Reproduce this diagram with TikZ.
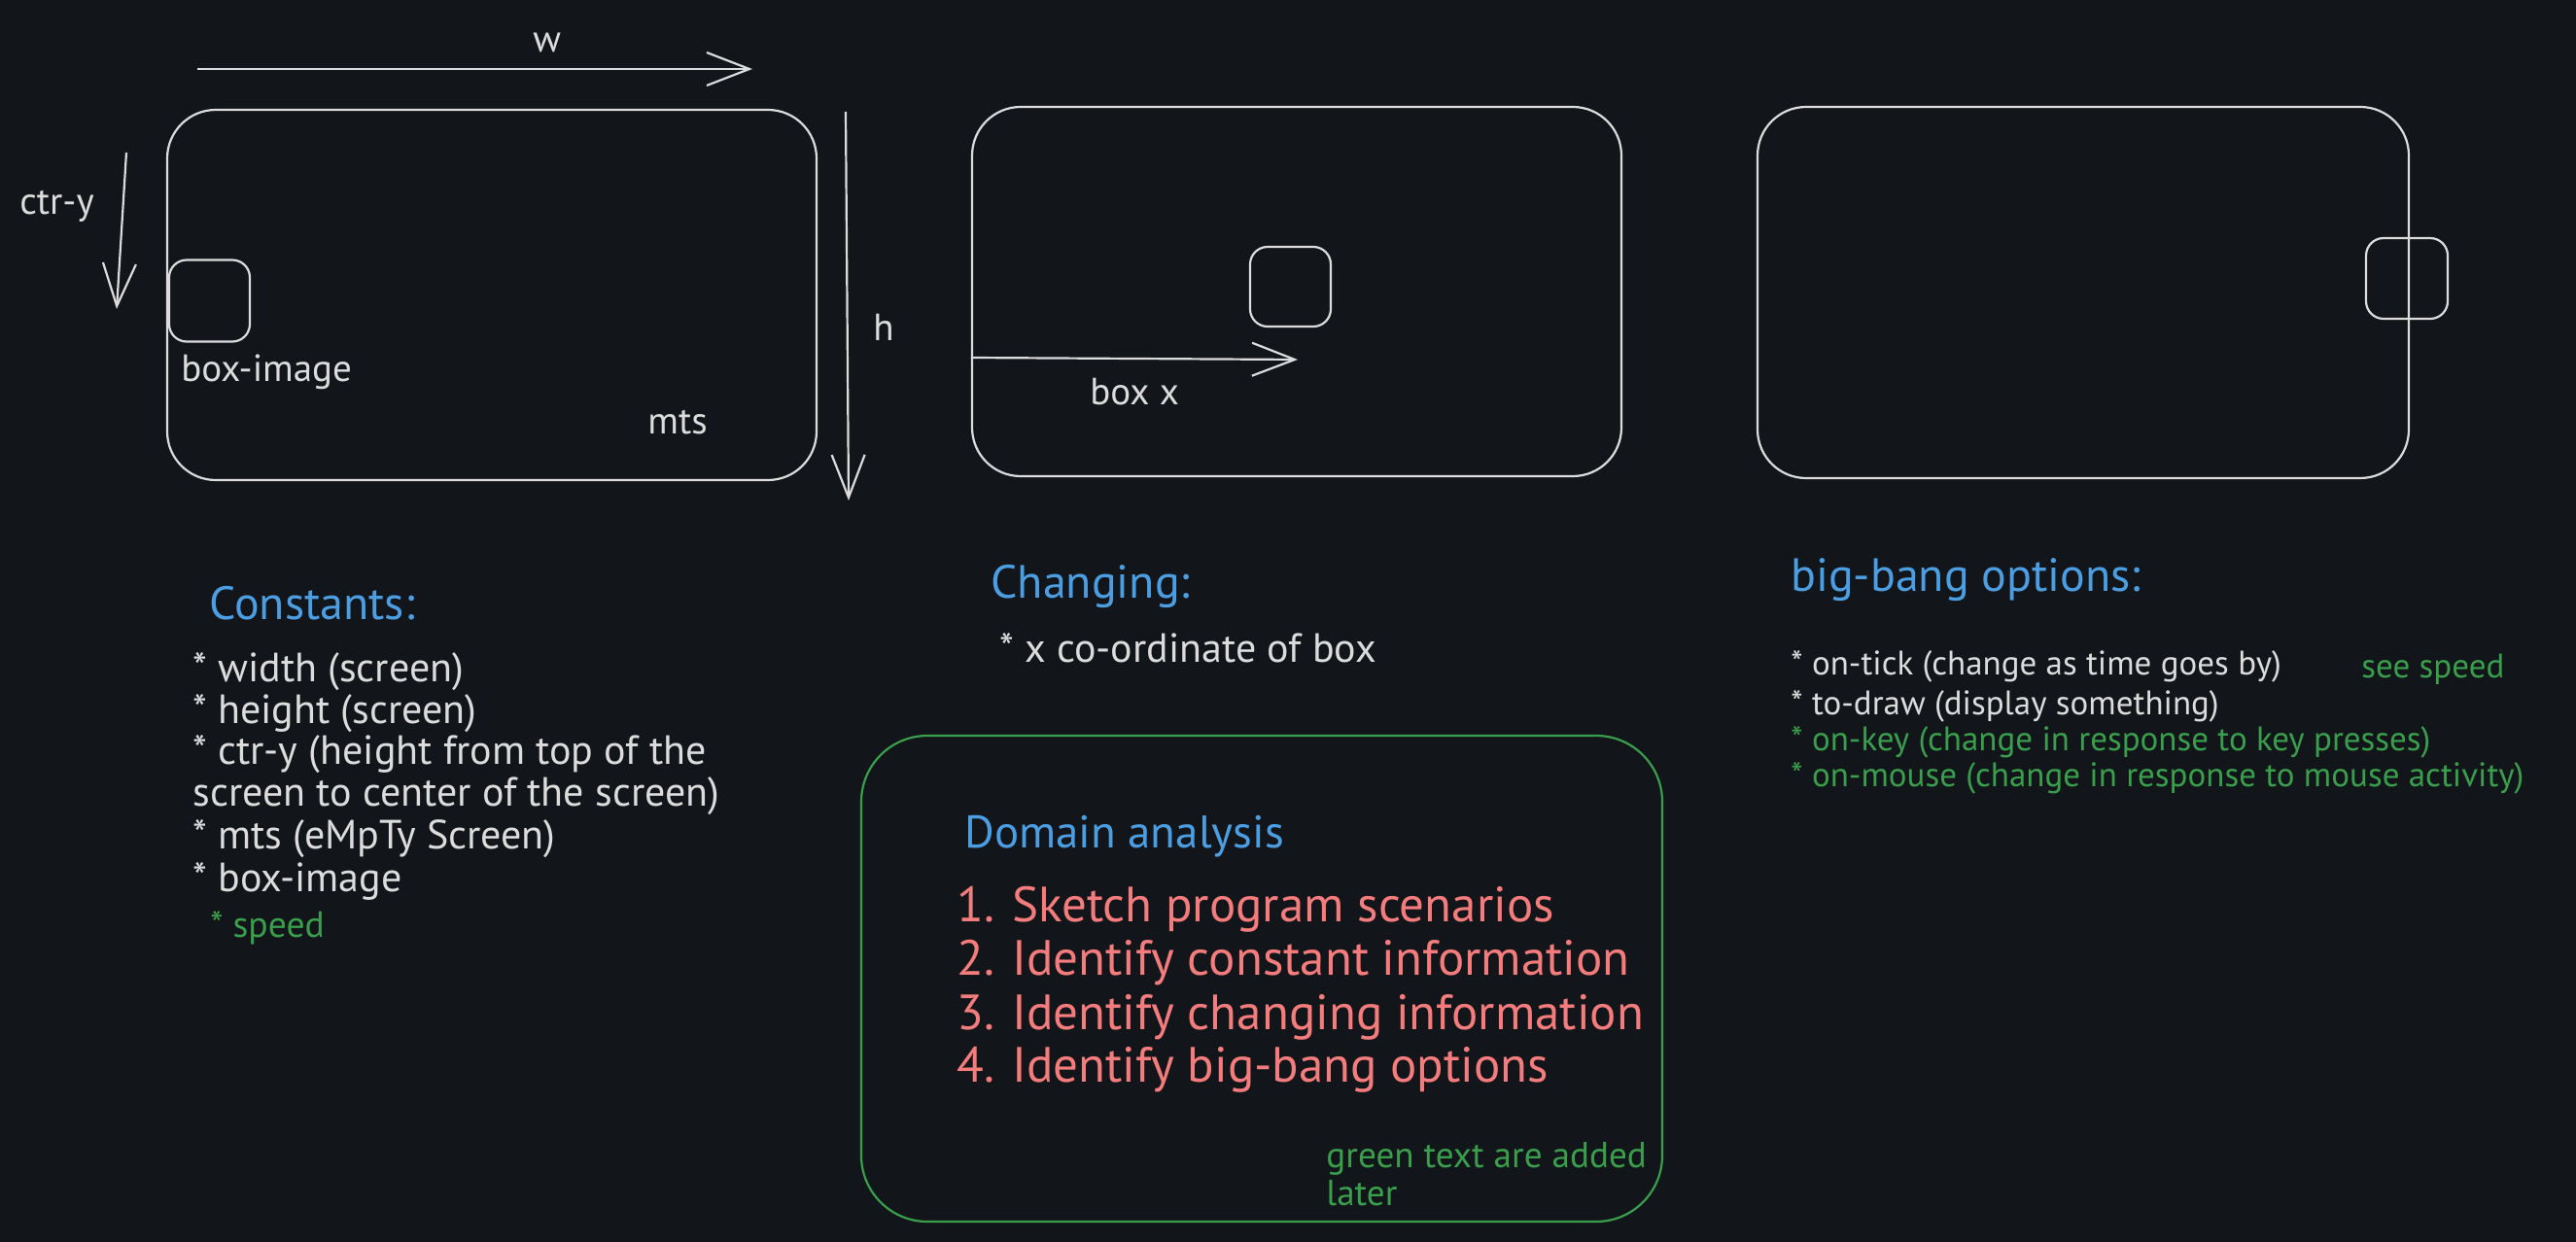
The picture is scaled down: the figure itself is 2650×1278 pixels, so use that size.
\documentclass[tikz,border=0pt]{standalone}
\usepackage{fontspec}
\setmainfont{PT Sans}
\usetikzlibrary{arrows.meta}
\definecolor{bgc}{HTML}{121519}
\definecolor{ink}{HTML}{DCDCDC}
\definecolor{blu}{HTML}{4C9EE3}
\definecolor{rd}{HTML}{F47C7C}
\definecolor{grn}{HTML}{3A9F4C}
\tikzset{
  screen/.style={draw=ink, line width=1.1pt, rounded corners=25pt, minimum width=334pt, minimum height=190pt, inner sep=0},
  smallbox/.style={draw=ink, line width=1.1pt, rounded corners=9pt, minimum width=41.5pt, minimum height=42pt, inner sep=0},
  dim/.style={draw=ink, line width=1.1pt, -{Straight Barb[length=22pt,width=17pt,line width=1.1pt]}},
  lbl/.style={anchor=mid west, inner sep=0, yshift=-4pt, text=ink, font=\fontsize{19.5pt}{22pt}\selectfont},
  item/.style={anchor=mid west, inner sep=0, yshift=-4pt, text=ink, font=\fontsize{21pt}{24pt}\selectfont},
  bitem/.style={anchor=mid west, inner sep=0, yshift=-4pt, text=ink, font=\fontsize{17.5pt}{20pt}\selectfont},
  head/.style={anchor=mid west, inner sep=0, yshift=-4pt, text=blu, font=\fontsize{24pt}{28pt}\selectfont},
  dstep/.style={anchor=mid west, inner sep=0, yshift=-4pt, text=rd, font=\fontsize{25.5pt}{30pt}\selectfont},
}
\begin{document}
\begin{tikzpicture}[x=0.5pt, y=-0.5pt]
\fill[bgc] (0,0) rectangle (2650,1278);
\useasboundingbox (0,0) rectangle (2650,1278);

% screen 1
\node[screen, minimum height=190.5pt] (s1) at (506,303.5) {};
\node[smallbox] (b1) at (215.5,309.5) {};
\coordinate (wA) at (203,71);
\coordinate (wB) at (774,71);
\draw[dim] (wA) -- (wB);
\node[lbl] (wl) at (548,41) {w};
\coordinate (hA) at (870,115);
\coordinate (hB) at (873,515);
\draw[dim] (hA) -- (hB);
\node[lbl] (hl) at (898,338) {h};
\coordinate (cA) at (130,157);
\coordinate (cB) at (120,318);
\draw[dim] (cA) -- (cB);
\node[lbl] (cl) at (20,208) {ctr-y};
\node[lbl] (bil) at (186,380) {box-image};
\node[lbl] (mtl) at (666,433) {mts};

% screen 2
\node[screen] (s2) at (1334,300) {};
\node[smallbox, minimum height=41pt] (b2) at (1327.5,295) {};
\coordinate (xB) at (1335,370);
\draw[dim] (s2.west |- 0,368) -- (xB);
\node[lbl] (bxl) at (1121,404) {box x};

% screen 3
\node[screen, minimum width=335pt, minimum height=191pt] (s3) at (2143,301) {};
\node[smallbox, minimum width=42pt, minimum height=41.5pt] (b3) at (2476,286.5) {};

% Constants
\node[head] (ch) at (215,624) {Constants:};
\node[item] (c1) at (198,688) {* width (screen)};
\node[item] (c2) at (198,731) {* height (screen)};
\node[item] (c3) at (198,773) {* ctr-y (height from top of the};
\node[item] (c4) at (198,816) {screen to center of the screen)};
\node[item] (c5) at (198,860) {* mts (eMpTy Screen)};
\node[item] (c6) at (198,904) {* box-image};
\node[item, text=grn, font=\fontsize{18.8pt}{22pt}\selectfont] (c7) at (216,951) {* speed};

% Changing
\node[head] (gh) at (1019,602) {Changing:};
\node[item] (g1) at (1028,668) {* x co-ordinate of box};

% big-bang options
\node[head] (bh) at (1842,595) {big-bang options:};
\node[bitem] (o1) at (1842,681) {* on-tick (change as time goes by)};
\node[bitem, text=grn] (o1g) at (2429,684) {see speed};
\node[bitem] (o2) at (1842,722) {* to-draw (display something)};
\node[bitem, text=grn] (o3) at (1842,759) {* on-key (change in response to key presses)};
\node[bitem, text=grn] (o4) at (1842,796) {* on-mouse (change in response to mouse activity)};

% Domain analysis
\node[draw=grn, line width=1.1pt, rounded corners=34pt, minimum width=412pt, minimum height=250pt, inner sep=0] (da) at (1298,1007) {};
\node[head, font=\fontsize{23.5pt}{28pt}\selectfont] (dh) at (992,859) {Domain analysis};
\node[dstep] (d1) at (984,935) {1. Sketch program scenarios};
\node[dstep] (d2) at (984,990) {2. Identify constant information};
\node[dstep] (d3) at (984,1046) {3. Identify changing information};
\node[dstep] (d4) at (984,1100) {4. Identify big-bang options};
\node[bitem, text=grn, font=\fontsize{18.6pt}{22pt}\selectfont] (n1) at (1364,1188) {green text are added};
\node[bitem, text=grn, font=\fontsize{18.6pt}{22pt}\selectfont] (n2) at (1364,1227) {later};
\end{tikzpicture}
\end{document}
